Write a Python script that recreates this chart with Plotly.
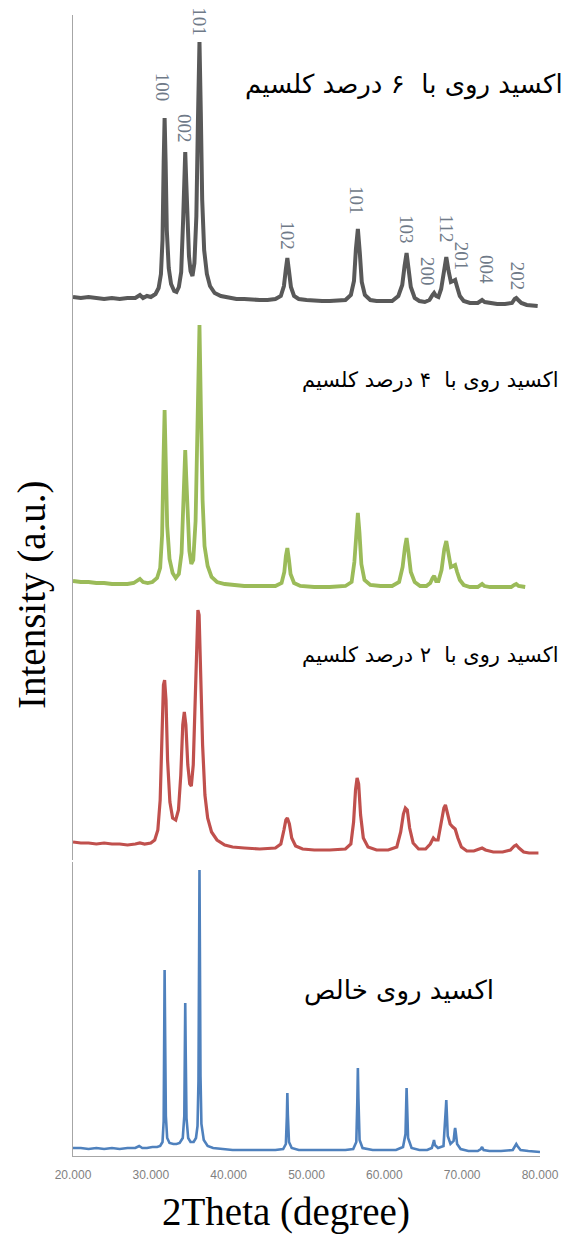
import plotly.graph_objects as go

# ---------------- data (2theta in degrees, intensity in a.u., each pattern from its own baseline) -------------
ca6_pts = [(20.0,15),(21.0,14),(22.0,15),(23.0,14),(24.0,13),(25.0,14),(26.0,13),(27.0,14),(28.0,14),(28.6,17),
           (29.0,14),(29.5,16),(30.0,15),(30.6,18),(31.0,24),(31.3,38),(31.5,72),(31.65,150),(31.77,194),(31.9,150),
           (32.05,82),(32.3,44),(32.6,28),(33.0,21),(33.3,20),(33.6,25),(33.9,40),(34.15,92),(34.3,140),(34.42,160),
           (34.55,130),(34.7,86),(34.9,56),(35.1,41),(35.35,36),(35.6,49),(35.85,96),(36.05,190),(36.25,270),(36.42,200),
           (36.6,112),(36.85,62),(37.2,38),(37.6,26),(38.2,19),(39.0,16),(40.0,14),(41.0,13),(42.0,13),(43.0,12),
           (44.0,12),(45.0,12),(46.0,13),(46.7,16),(47.1,26),(47.35,43),(47.54,54),(47.75,41),(48.0,25),(48.4,16),
           (49.0,13),(50.0,12),(51.0,11),(52.0,11),(53.0,11),(54.0,11),(55.0,12),(55.7,17),(56.1,31),(56.35,63),
           (56.6,83),(56.85,59),(57.1,30),(57.5,17),(58.2,12),(59.0,11),(60.0,11),(61.0,11),(61.8,16),(62.3,27),
           (62.6,46),(62.86,59),(63.1,44),(63.4,25),(63.9,14),(64.5,11),(65.2,10),(65.8,12),(66.2,17),(66.4,19),
           (66.65,16),(66.95,15),(67.3,23),(67.65,43),(67.96,55),(68.25,41),(68.55,30),(68.85,31),(69.1,32),(69.35,25),
           (69.7,16),(70.2,11),(71.0,9),(72.0,9),(72.3,11),(72.56,12),(72.9,10),(73.5,9),(74.5,8),(75.5,8),
           (76.4,9),(76.75,13),(76.95,14),(77.2,12),(77.6,9),(78.3,7),(79.0,7),(79.7,6)]

ca4_pts = [(20.0,11),(21.0,10),(22.0,10),(23.0,9),(24.0,9),(25.0,8),(26.0,8),(27.0,8),(27.8,9),(28.3,12),
           (28.6,13),(29.0,10),(29.6,9),(30.2,10),(30.8,14),(31.2,24),(31.45,57),(31.62,130),(31.77,182),(31.92,130),
           (32.1,66),(32.4,33),(32.8,19),(33.2,14),(33.6,18),(33.95,39),(34.18,90),(34.32,130),(34.42,142),(34.55,115),
           (34.72,73),(34.95,41),(35.2,28),(35.45,32),(35.75,71),(36.0,170),(36.25,267),(36.45,175),(36.65,92),(36.9,46),
           (37.3,26),(37.8,15),(38.5,10),(39.5,8),(40.5,7),(42.0,6),(44.0,6),(46.0,6),(46.8,9),(47.15,20),
           (47.35,36),(47.54,44),(47.75,32),(47.95,18),(48.4,9),(49.2,6),(51.0,5),(53.0,5),(55.0,6),(55.8,10),
           (56.15,30),(56.4,64),(56.6,79),(56.8,60),(57.05,28),(57.45,12),(58.2,7),(59.5,6),(61.0,6),(61.9,10),
           (62.35,25),(62.65,45),(62.86,54),(63.1,40),(63.4,20),(63.9,10),(64.6,6),(65.4,6),(65.9,9),(66.2,14),
           (66.4,16),(66.65,11),(66.95,11),(67.35,22),(67.7,43),(67.96,51),(68.25,37),(68.55,25),(68.85,26),(69.1,27),
           (69.35,20),(69.7,12),(70.2,7),(71.0,5),(72.0,5),(72.35,7),(72.56,8),(72.85,6),(73.6,5),(75.0,5),
           (76.3,5),(76.7,7),(76.95,8),(77.25,6),(77.7,5),(78.1,5)]

ca2_pts = [(20.0,18),(21.0,17),(22.0,17),(23.0,16),(24.0,17),(25.0,16),(26.0,16),(27.0,15),(28.0,16),(28.6,17),
           (29.2,16),(30.0,17),(30.5,20),(30.9,30),(31.2,60),(31.45,130),(31.62,175),(31.77,180),(31.95,160),(32.15,100),
           (32.45,58),(32.8,42),(33.2,40),(33.55,50),(33.85,85),(34.1,135),(34.3,148),(34.5,135),(34.75,95),(35.0,76),
           (35.2,74),(35.45,95),(35.7,160),(35.9,235),(36.05,250),(36.2,245),(36.4,190),(36.65,115),(36.95,65),(37.3,42),
           (37.8,28),(38.5,20),(39.5,15),(40.5,13),(42.0,12),(44.0,11),(46.0,12),(46.7,16),(47.1,30),(47.35,40),
           (47.54,42),(47.8,36),(48.1,22),(48.6,14),(49.5,11),(51.0,10),(53.0,10),(55.0,11),(55.7,16),(56.05,38),
           (56.3,70),(56.5,82),(56.7,76),(56.95,45),(57.3,22),(57.9,13),(59.0,10),(60.5,10),(61.6,13),(62.1,28),
           (62.45,46),(62.7,52),(62.95,50),(63.25,32),(63.7,17),(64.4,11),(65.3,11),(65.9,16),(66.3,22),(66.55,20),
           (66.9,20),(67.3,35),(67.65,52),(67.85,55),(68.1,48),(68.45,36),(68.8,33),(69.1,31),(69.45,22),(69.9,13),
           (70.6,9),(71.5,9),(72.2,11),(72.56,12),(73.0,10),(74.0,8),(75.2,8),(76.2,10),(76.7,14),(76.95,15),
           (77.3,12),(77.9,8),(78.6,7),(79.3,7),(79.8,7)]

pure_pts = [(20.0,8),(21.0,8),(22.0,7),(23.0,8),(24.0,7),(25.0,8),(26.0,7),(27.0,8),(28.0,8),(28.5,10),
            (28.9,8),(29.5,8),(30.2,9),(30.8,9),(31.2,10),(31.5,14),(31.65,35),(31.72,120),(31.77,186),(31.84,120),
            (31.93,40),(32.1,18),(32.4,13),(32.9,12),(33.3,12),(33.7,13),(34.1,18),(34.3,40),(34.37,110),(34.42,153),
            (34.48,105),(34.58,38),(34.8,18),(35.1,14),(35.5,14),(35.8,18),(36.0,30),(36.12,75),(36.2,200),(36.25,286),
            (36.3,210),(36.38,80),(36.5,32),(36.8,16),(37.3,10),(38.0,8),(39.0,7),(40.5,6),(42.0,6),(44.0,6),
            (46.0,6),(47.0,7),(47.35,12),(47.48,40),(47.54,63),(47.6,42),(47.75,14),(48.1,8),(49.0,6),(51.0,6),
            (53.0,6),(55.0,6),(56.0,7),(56.4,14),(56.53,55),(56.6,88),(56.67,58),(56.82,16),(57.2,8),(58.5,6),
            (60.0,6),(61.5,6),(62.4,9),(62.72,22),(62.82,55),(62.86,68),(62.92,52),(63.05,18),(63.5,8),(64.5,6),
            (65.5,6),(66.1,8),(66.3,13),(66.38,16),(66.5,11),(66.9,8),(67.6,10),(67.85,35),(67.92,50),(67.96,56),
            (68.02,46),(68.15,20),(68.5,12),(68.9,15),(69.05,26),(69.1,28),(69.17,24),(69.35,12),(69.8,7),(70.8,5),
            (72.0,5),(72.4,7),(72.56,9),(72.75,6),(73.5,5),(75.0,5),(76.5,6),(76.85,11),(76.95,12),(77.1,10),
            (77.5,6),(78.5,5),(79.5,4),(80.0,4)]

peak_labels = ["100", "002", "101", "102", "101", "103", "200", "112", "201", "004", "202"]
peak_label_2theta = [31.6, 34.4, 36.3, 47.6, 56.5, 62.9, 65.6, 68.1, 70.0, 73.2, 77.2]
peak_label_height = [225, 184, 290, 76, 112, 82, 40, 83, 56, 43, 36]

sample_names = ["اکسید روی با  ۶ درصد کلسیم", "اکسید روی با  ۴ درصد کلسیم",
                "اکسید روی با  ۲ درصد کلسیم", "اکسید روی خالص"]
x_ticks = [20, 30, 40, 50, 60, 70, 80]

# ---------------- layout helpers ----------------
W, H = 571, 1238
ML, MR, MT, MB = 73, 31, 15, 82
PW, PH = W - ML - MR, H - MT - MB


def py(pix):  # pixel row -> paper fraction
    return (H - MB - pix) / PH


def px(pix):
    return (pix - ML) / PW


series = [
    (ca6_pts, "#595959", 4.0, "y", [py(312), 1.0], 297),
    (ca4_pts, "#9bbb59", 3.8, "y2", [py(592), py(312)], 280),
    (ca2_pts, "#c0504d", 3.2, "y3", [py(860), py(592)], 268),
    (pure_pts, "#4f81bd", 2.6, "y4", [0.0, py(862)], 294),
]

fig = go.Figure()
axis_line = "#a6a6a6"
for i, (pts, col, lw, yref, dom, top) in enumerate(series):
    xs = [p[0] for p in pts]
    ys = [p[1] for p in pts]
    fig.add_trace(go.Scatter(x=xs, y=ys, mode="lines", xaxis="x", yaxis=yref,
                             line=dict(color=col, width=lw), showlegend=False,
                             hoverinfo="skip"))
    key = "yaxis" if i == 0 else f"yaxis{i+1}"
    fig.layout[key] = dict(domain=dom, range=[0, top], anchor="x", showgrid=False,
                           zeroline=False, showticklabels=False, ticks="",
                           showline=True, linecolor=axis_line, linewidth=1.2,
                           fixedrange=True)

fig.update_layout(
    width=W, height=H, autosize=False,
    margin=dict(l=ML, r=MR, t=MT, b=MB, pad=0),
    paper_bgcolor="white", plot_bgcolor="white",
    xaxis=dict(range=[20, 80], anchor="y4", showgrid=False, zeroline=False,
               showline=True, linecolor=axis_line, linewidth=1.2,
               tickvals=x_ticks, tickformat=".3f", ticks="",
               ticklabelstandoff=7,
               tickfont=dict(family="Liberation Sans", size=12, color="#7f7f7f"),
               fixedrange=True),
)

# peak indices on the top pattern
for lab, xx, hh in zip(peak_labels, peak_label_2theta, peak_label_height):
    fig.add_annotation(x=xx, y=hh, xref="x", yref="y", text=lab, showarrow=False,
                       textangle=90, font=dict(family="Liberation Serif", size=19, color="#6f7a88"))

# sample names
name_pos = [(404, 84, 26), (430, 380, 21), (430, 655, 21), (399, 990, 26)]
for name, (cx, cy, fs) in zip(sample_names, name_pos):
    fig.add_annotation(x=px(cx), y=py(cy), xref="paper", yref="paper", text=name,
                       showarrow=False, xanchor="center", yanchor="middle",
                       font=dict(family="DejaVu Sans", size=fs, color="black"))

# axis titles
fig.add_annotation(x=px(286), y=py(1212), xref="paper", yref="paper", text="2Theta (degree)",
                   showarrow=False, xanchor="center", yanchor="middle",
                   font=dict(family="Liberation Serif", size=39, color="black"))
fig.add_annotation(x=px(32), y=py(595), xref="paper", yref="paper", text="Intensity (a.u.)",
                   showarrow=False, xanchor="center", yanchor="middle", textangle=-90,
                   font=dict(family="Liberation Serif", size=39, color="black"))

fig.write_html("out.html")
